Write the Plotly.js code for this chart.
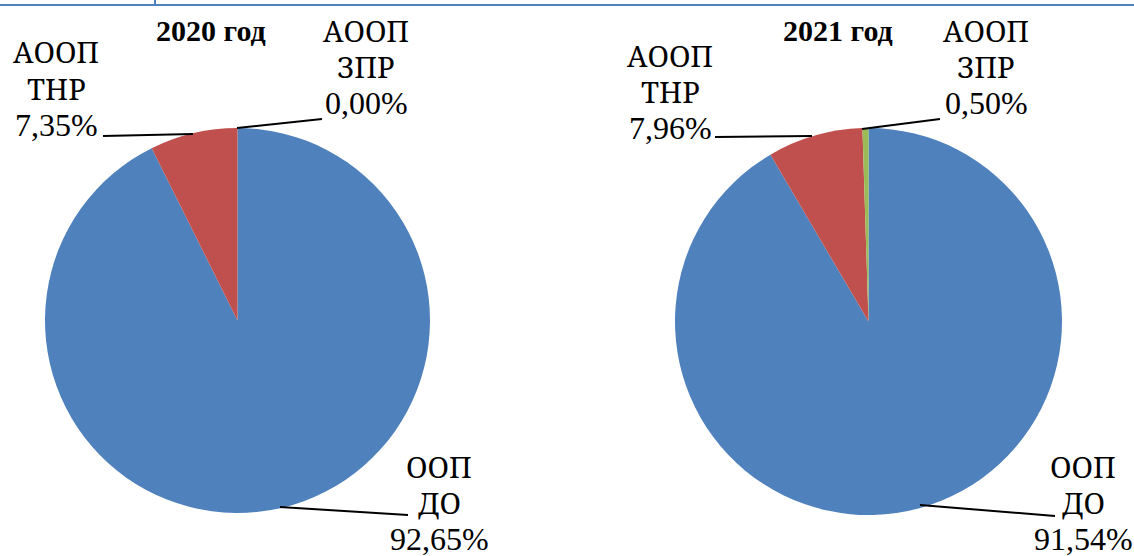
<!DOCTYPE html>
<html>
<head>
<meta charset="utf-8">
<script src="https://cdn.plot.ly/plotly-3.0.1.min.js"></script>
<style>html,body{margin:0;padding:0;background:#fff;}#chart{width:1134px;height:556px;}</style>
</head>
<body>
<div id="chart"></div>
<script>
// ---- data ----
const categories = ['ООП ДО', 'АООП ТНР', 'АООП ЗПР'];
const values2020 = [92.65, 7.35, 0.00];
const values2021 = [91.54, 7.96, 0.50];
const chartTitles = ['2020 год', '2021 год'];
const colors = ['#4F81BD', '#C0504D', '#9BBB59'];

// ---- layout helpers (pixel -> paper) ----
const W = 1134, H = 556;
const px = x => x / W;
const py = y => 1 - y / H;

const pies = [
  {values: values2020, title: chartTitles[0], box: [45, 430, 128, 513], titlePos: [211, 31],
   labelPos: [[439, 476], [56, 62], [366, 40]],
   leaders: [[[280, 507], [408, 515]], [[103, 136], [193, 134]], [[237, 128], [322, 119]]]},
  {values: values2021, title: chartTitles[1], box: [675, 1062, 128, 515], titlePos: [838, 31],
   labelPos: [[1083, 476], [670, 65], [986, 40]],
   leaders: [[[920, 505], [1055, 516]], [[715, 137], [812, 136]], [[862, 129], [940, 119]]]}
];

const fmt = v => v.toFixed(2).replace('.', ',') + '%';
const lineGap = 36.5;
const NUM_FONT = {family: 'Liberation Serif', size: 32, color: '#000'};
const CYR_FONT = {family: 'Noto Serif', size: 29, color: '#000'};

const traces = [];
const annotations = [];
const shapes = [];

pies.forEach(p => {
  traces.push({
    type: 'pie',
    labels: categories,
    values: p.values,
    sort: false,
    direction: 'clockwise',
    rotation: 0,
    textinfo: 'none',
    hoverinfo: 'label+value',
    showlegend: false,
    marker: {colors: colors, line: {width: 0}},
    domain: {x: [px(p.box[0]), px(p.box[1])], y: [py(p.box[3]), py(p.box[2])]}
  });
  annotations.push({
    text: '<b>' + p.title + '</b>', xref: 'paper', yref: 'paper',
    x: px(p.titlePos[0]), y: py(p.titlePos[1]), xanchor: 'center', yanchor: 'middle',
    showarrow: false, font: {family: 'Liberation Serif', size: 30, color: '#000'}
  });
  categories.forEach((c, i) => {
    const words = c.split(' ');
    const lines = words.concat([fmt(p.values[i])]);
    lines.forEach((t, k) => {
      const base = p.labelPos[i][1] + k * lineGap;
      const f = k < words.length ? CYR_FONT : NUM_FONT;
      annotations.push({
        text: t, xref: 'paper', yref: 'paper',
        x: px(p.labelPos[i][0]), y: py(base - 10), xanchor: 'center', yanchor: 'middle',
        showarrow: false, font: Object.assign({}, f)
      });
    });
    const L = p.leaders[i];
    shapes.push({type: 'line', xref: 'paper', yref: 'paper',
      x0: px(L[0][0]), y0: py(L[0][1]), x1: px(L[1][0]), y1: py(L[1][1]),
      line: {color: '#000', width: 2}});
  });
});

// document border fragment at top
shapes.push({type: 'line', xref: 'paper', yref: 'paper', x0: 0, x1: 1, y0: py(5), y1: py(5),
  line: {color: '#4F81BD', width: 2}});
shapes.push({type: 'line', xref: 'paper', yref: 'paper', x0: px(155), x1: px(155), y0: 1, y1: py(5),
  line: {color: '#4F81BD', width: 2}});

const layout = {
  width: W, height: H,
  margin: {l: 0, r: 0, t: 0, b: 0},
  paper_bgcolor: '#fff', plot_bgcolor: '#fff',
  annotations: annotations,
  shapes: shapes
};

Plotly.newPlot('chart', traces, layout, {displayModeBar: false, staticPlot: true});
</script>
</body>
</html>
